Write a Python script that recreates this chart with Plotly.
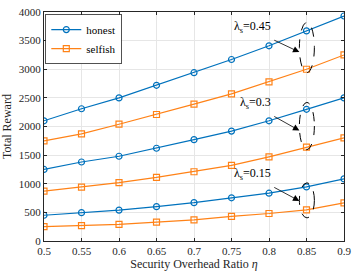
import plotly.graph_objects as go

eta = [0.5, 0.55, 0.6, 0.65, 0.7, 0.75, 0.8, 0.85, 0.9]
honest_045 = [2100, 2310, 2500, 2720, 2940, 3170, 3410, 3670, 3930]
selfish_045 = [1750, 1870, 2040, 2210, 2390, 2570, 2780, 3000, 3250]
honest_030 = [1250, 1380, 1480, 1620, 1770, 1920, 2100, 2300, 2500]
selfish_030 = [870, 940, 1020, 1110, 1210, 1320, 1470, 1640, 1800]
honest_015 = [450, 495, 540, 600, 670, 755, 835, 945, 1085]
selfish_015 = [250, 270, 290, 330, 370, 430, 480, 545, 665]
x_ticks = [0.5, 0.55, 0.6, 0.65, 0.7, 0.75, 0.8, 0.85, 0.9]
y_ticks = [0, 500, 1000, 1500, 2000, 2500, 3000, 3500, 4000]

BLUE = "#0072BD"
ORANGE = "#FF8217"
FONT = "Liberation Serif, Times New Roman, serif"

fig = go.Figure()
groups = [(honest_045, selfish_045), (honest_030, selfish_030), (honest_015, selfish_015)]
for i, (h, s) in enumerate(groups):
    fig.add_trace(go.Scatter(x=eta, y=h, mode="lines+markers", name="honest",
                             showlegend=(i == 0),
                             line=dict(color=BLUE, width=1.2),
                             marker=dict(symbol="circle-open", size=6, color=BLUE, line=dict(width=1.2))))
    fig.add_trace(go.Scatter(x=eta, y=s, mode="lines+markers", name="selfish",
                             showlegend=(i == 0),
                             line=dict(color=ORANGE, width=1.2),
                             marker=dict(symbol="square-open", size=6, color=ORANGE, line=dict(width=1.2))))

# ellipses around eta=0.85 points
ell = [(selfish_045[7] - 60, honest_045[7] + 150),
       (selfish_030[7] - 45, honest_030[7] + 120),
       (selfish_015[7] - 140, honest_015[7] + 70)]
for y0, y1 in ell:
    fig.add_shape(type="circle", xref="x", yref="y", x0=0.8405, x1=0.8605, y0=y0, y1=y1,
                  line=dict(color="black", width=1, dash="dash"))

labels = [("λ<sub>s</sub>=0.45", 3560, 3300),
          ("λ<sub>s</sub>=0.3", 2230, 1930),
          ("λ<sub>s</sub>=0.15", 990, 700)]
for text, yt, yh in labels:
    fig.add_annotation(x=0.8405, y=yh, ax=0.805, ay=yt - 40, axref="x", ayref="y",
                       xref="x", yref="y", text="", showarrow=True,
                       arrowhead=2, arrowsize=1.6, arrowwidth=0.8, arrowcolor="black")
    fig.add_annotation(x=0.8055, y=yt, xref="x", yref="y", text=text, showarrow=False,
                       xanchor="right", yanchor="bottom",
                       font=dict(family=FONT, size=12, color="black"))

axis_common = dict(showline=True, linecolor="#262626", linewidth=1, mirror="ticks",
                   ticks="inside", ticklen=3, tickcolor="#262626",
                   showgrid=True, gridcolor="#e6e6e6", gridwidth=1, zeroline=False,
                   tickfont=dict(family=FONT, size=11, color="#262626"))

fig.update_xaxes(range=[0.5, 0.9], tickvals=x_ticks, ticktext=[f"{v:g}" for v in x_ticks],
                 title=dict(text="Security Overhead Ratio <i>η</i>", font=dict(family=FONT, size=12, color="#262626"),
                            standoff=2),
                 **axis_common)
fig.update_yaxes(range=[0, 4000], tickvals=y_ticks, ticktext=[str(v) for v in y_ticks],
                 title=dict(text="Total Reward", font=dict(family=FONT, size=12, color="#262626"), standoff=4),
                 **axis_common)

fig.update_layout(width=357, height=277, margin=dict(l=43, r=10, t=6, b=36),
                  plot_bgcolor="white", paper_bgcolor="white",
                  font=dict(family=FONT, color="#262626"),
                  legend=dict(x=0.005, y=0.99, xanchor="left", yanchor="top",
                              bgcolor="white", bordercolor="#262626", borderwidth=0.8,
                              font=dict(family=FONT, size=11, color="black"),
                              itemwidth=30, tracegroupgap=0))

fig.write_html("out.html", config={"displayModeBar": False},
               post_script="document.body.style.margin='0';document.body.style.padding='0';")
